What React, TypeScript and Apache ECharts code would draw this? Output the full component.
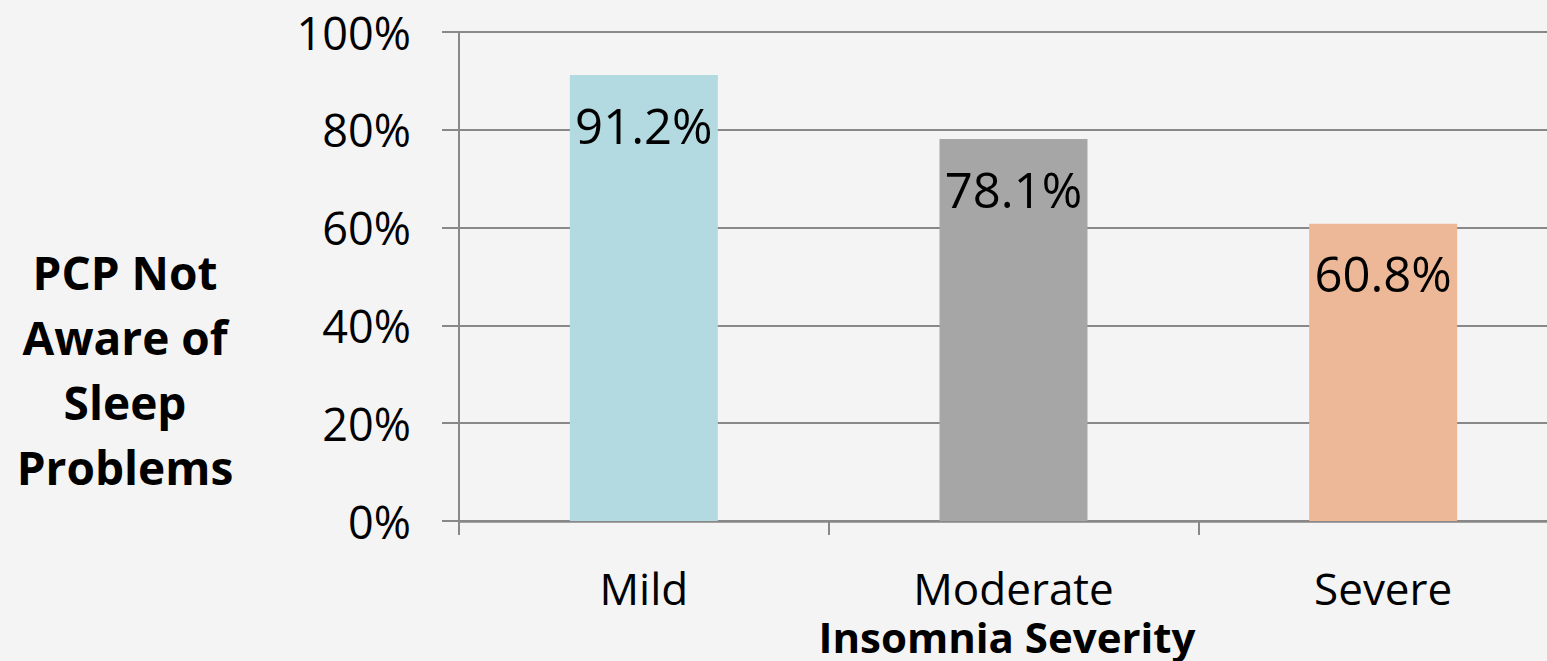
import React, { useEffect, useRef } from "react";
import * as echarts from "echarts";

const categories = ["Mild", "Moderate", "Severe"];
const values = [91.2, 78.1, 60.8];
const barColors = ["#b3d9e1", "#a6a6a6", "#edb898"];
const yTicks = { min: 0, max: 100, interval: 20 };
const yTitle = "PCP Not\nAware of\nSleep\nProblems";
const xTitle = "Insomnia Severity";

const FONT = "'Open Sans', 'Noto Sans', sans-serif";

export default function App() {
  const ref = useRef<HTMLDivElement>(null);
  useEffect(() => {
    if (!ref.current) return;
    const chart = echarts.init(ref.current, undefined, { renderer: "svg" });
    chart.setOption({
      animation: false,
      backgroundColor: "#f4f4f4",
      grid: { left: 459, top: 32, bottom: 140, right: 0, containLabel: false },
      xAxis: {
        type: "category",
        data: categories,
        boundaryGap: true,
        axisLine: { show: true, lineStyle: { color: "#888888", width: 2.5 } },
        axisTick: { show: true, length: 14, lineStyle: { color: "#888888", width: 2 } },
        axisLabel: { color: "#000", fontFamily: FONT, fontSize: 44, lineHeight: 34, margin: 50 },
      },
      yAxis: {
        type: "value",
        min: yTicks.min,
        max: yTicks.max,
        interval: yTicks.interval,
        axisLine: { show: true, lineStyle: { color: "#888888", width: 2 } },
        axisTick: { show: true, length: 17, lineStyle: { color: "#888888", width: 2 } },
        splitLine: { show: true, lineStyle: { color: "#888888", width: 2 } },
        axisLabel: {
          color: "#000",
          fontFamily: FONT,
          fontSize: 45,
          margin: 48,
          formatter: "{value}%",
        },
      },
      graphic: [
        {
          type: "text",
          x: 125,
          y: 369,
          style: {
            text: yTitle,
            fontFamily: FONT,
            fontWeight: "bold",
            fontSize: 46,
            lineHeight: 65,
            textAlign: "center",
            textVerticalAlign: "middle",
            fill: "#000",
          },
        },
        {
          type: "text",
          x: 1007,
          y: 636,
          style: {
            text: xTitle,
            fontFamily: FONT,
            fontWeight: "bold",
            fontSize: 42,
            lineHeight: 30,
            textAlign: "center",
            textVerticalAlign: "middle",
            fill: "#000",
          },
        },
      ],
      series: [
        {
          type: "bar",
          barWidth: 148,
          data: values.map((v, i) => ({ value: v, itemStyle: { color: barColors[i] } })),
          label: {
            show: true,
            position: "insideTop",
            distance: 25,
            color: "#000",
            fontFamily: FONT,
            fontSize: 49,
            formatter: (p: any) => `${p.value.toFixed(1)}%`,
          },
        },
      ],
    });
    return () => chart.dispose();
  }, []);
  return (
    <div style={{ position: "fixed", left: 0, top: 0, width: 1547, height: 661, overflow: "hidden" }}>
      <div ref={ref} style={{ position: "absolute", left: 0, top: 0, width: 1568, height: 661 }} />
    </div>
  );
}
